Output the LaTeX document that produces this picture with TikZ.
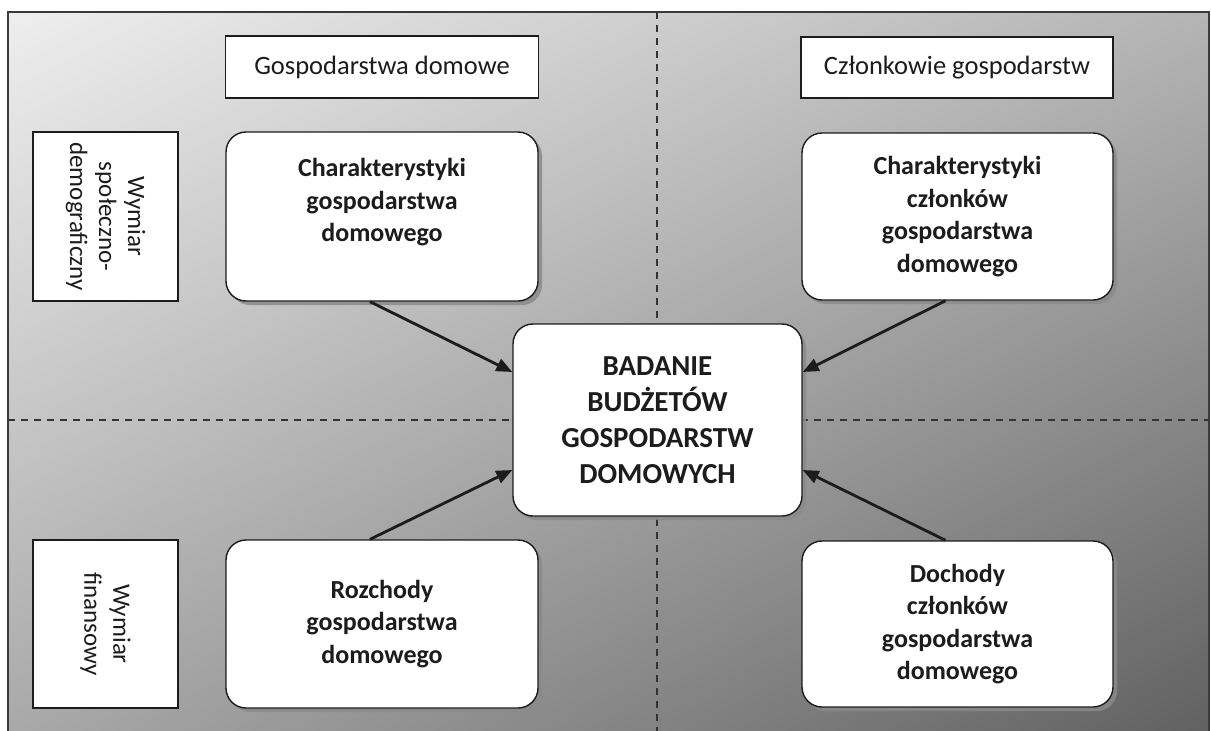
\documentclass[tikz,border=0pt]{standalone}
\usepackage{fontspec}
\setmainfont{Carlito}
\usetikzlibrary{arrows.meta,shadows,shadings}

\definecolor{ink}{HTML}{1C1C1C}
\definecolor{framegray}{HTML}{3A3A3A}
\definecolor{dashgray}{HTML}{333333}
\definecolor{shadowgray}{HTML}{8A8A8A}
\definecolor{bgTL}{HTML}{EEEEEE}
\definecolor{bgTR}{HTML}{B4B4B4}
\definecolor{bgBL}{HTML}{A8A8A8}
\definecolor{bgBR}{HTML}{606060}

\tikzset{
  boxline/.style={draw=ink, line width=1.4pt},
  topic/.style={boxline, fill=white, rounded corners=20pt, align=center,
    inner sep=0pt, text=ink, font=\bfseries\fontsize{26}{32.5}\selectfont,
    drop shadow={shadow xshift=4pt, shadow yshift=-4pt, fill=shadowgray, opacity=0.85}},
  hub/.style={topic, font=\bfseries\fontsize{29}{36}\selectfont},
  label/.style={boxline, fill=white, inner sep=0pt, text=ink,
    font=\fontsize{26.5}{32}\selectfont},
  dimension/.style={boxline, fill=white, inner sep=0pt, text=ink, align=center,
    rotate=-90, font=\fontsize{25}{29}\selectfont},
  divider/.style={draw=dashgray, line width=1.1pt, dash pattern=on 7pt off 6pt},
  feed/.style={draw=ink, line width=2.8pt,
    -{Triangle[length=16pt,width=13pt]}, shorten >=0pt}
}

\begin{document}
\begin{tikzpicture}[x=1pt,y=-1pt]
\useasboundingbox (0,0) rectangle (1211,731);

% shaded panel and its frame
\begin{scope}
  \clip (0,0) rectangle (1211,731);
  \shade[upper left=bgTL, upper right=bgTR, lower left=bgBL, lower right=bgBR]
    (8,12) rectangle (1209,740);
  \draw[line width=1.3pt, draw=framegray] (8,740) -- (8,12) -- (1209,12) -- (1209,740);
\end{scope}

% quadrant dividers
\coordinate (vtop) at (657,12);
\coordinate (vbot) at (657,731);
\coordinate (hleft) at (8,420);
\coordinate (hright) at (1209,420);
\draw[divider] (vtop) -- (vbot);
\draw[divider] (hleft) -- (hright);

% column and row headings
\node[label, minimum width=313pt, minimum height=62pt] (hh) at (382,67) {Gospodarstwa domowe};
\node[label, minimum width=312pt, minimum height=61pt] (mm) at (957,67.5) {Członkowie gospodarstw};
\node[dimension, minimum width=169pt, minimum height=145pt] (soc) at (105.5,216.5) {Wymiar\\społeczno-\\demograficzny};
\node[dimension, minimum width=168pt, minimum height=145pt] (fin) at (105.5,624) {Wymiar\\finansowy};

% topic boxes
\node[topic, minimum width=312pt, minimum height=169pt] (tl) at (382,216.5)
  {Charakterystyki\\gospodarstwa\\domowego\\\mbox{}};
\node[topic, minimum width=311pt, minimum height=167pt] (tr) at (957.5,216.5)
  {Charakterystyki\\członków\\gospodarstwa\\domowego};
\node[topic, minimum width=312pt, minimum height=168pt] (bl) at (382,624)
  {Rozchody\\gospodarstwa\\domowego};
\node[topic, minimum width=311pt, minimum height=166pt] (br) at (957.5,624)
  {Dochody\\członków\\gospodarstwa\\domowego};

% central box
\node[hub, minimum width=289pt, minimum height=192pt] (c) at (657.5,420)
  {BADANIE\\BUDŻETÓW\\GOSPODARSTW\\DOMOWYCH};

% connectors
\draw[feed] ([xshift=-12pt]tl.south) -- ([yshift=48pt]c.west);
\draw[feed] ([xshift=-12pt]tr.south) -- ([yshift=48pt]c.east);
\draw[feed] ([xshift=-12pt]bl.north) -- ([yshift=-50pt]c.west);
\draw[feed] ([xshift=-12pt]br.north) -- ([yshift=-50pt]c.east);
\end{tikzpicture}
\end{document}
